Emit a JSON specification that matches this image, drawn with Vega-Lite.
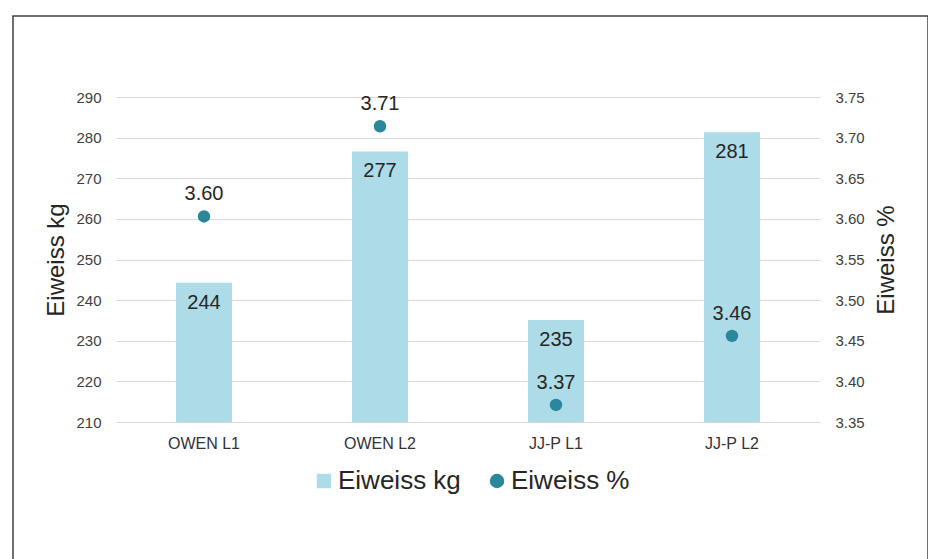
{
  "$schema": "https://vega.github.io/schema/vega-lite/v6.json",
  "autosize": "none",
  "padding": {"left": 13, "top": 16, "right": 0, "bottom": 0},
  "width": 915,
  "height": 560,
  "background": "white",
  "config": {
    "font": "Liberation Sans",
    "view": {"stroke": "#404040", "strokeWidth": 1.5}
  },
  "data": {
    "values": [
      {"cat": "OWEN L1", "kg": 244.3, "pct": 3.603},
      {"cat": "OWEN L2", "kg": 276.6, "pct": 3.714},
      {"cat": "JJ-P L1", "kg": 235.1, "pct": 3.371},
      {"cat": "JJ-P L2", "kg": 281.3, "pct": 3.456}
    ]
  },
  "encoding": {
    "x": {
      "field": "cat",
      "type": "nominal",
      "sort": null,
      "scale": {"range": [103, 807]},
      "axis": {
        "orient": "bottom",
        "title": null,
        "offset": -154,
        "domain": false,
        "ticks": false,
        "grid": false,
        "labelAngle": 0,
        "labelFontSize": 16,
        "labelColor": "#333333",
        "labelPadding": 13
      }
    }
  },
  "layer": [
    {
      "encoding": {
        "y": {
          "field": "kg",
          "type": "quantitative",
          "scale": {"domain": [210, 290], "zero": false, "nice": false, "range": [406, 81]},
          "axis": {
            "orient": "left",
            "title": "Eiweiss kg",
            "titleFontSize": 24,
            "titleFontWeight": "normal",
            "titleColor": "#262626",
            "titlePadding": 7,
            "offset": -103,
            "domain": false,
            "ticks": false,
            "grid": true,
            "gridColor": "#D9D9D9",
            "gridWidth": 1,
            "values": [210, 220, 230, 240, 250, 260, 270, 280, 290],
            "labelFontSize": 15,
            "labelColor": "#404040",
            "labelPadding": 15
          }
        }
      },
      "layer": [
        {
          "mark": {"type": "bar", "width": 56},
          "encoding": {
            "y2": {"datum": 210},
            "color": {
              "datum": "Eiweiss kg",
              "type": "nominal",
              "scale": {"domain": ["Eiweiss kg", "Eiweiss %"], "range": ["#ADDCE8", "#2A879C"]},
              "legend": {
                "orient": "none",
                "legendX": 298,
                "legendY": 452,
                "direction": "horizontal",
                "title": null,
                "labelFontSize": 26,
                "labelColor": "#262626",
                "symbolSize": 210,
                "symbolOpacity": 1,
                "symbolStrokeWidth": 0,
                "labelOffset": 1,
                "columnPadding": 23,
                "padding": 0
              }
            }
          }
        },
        {
          "mark": {"type": "text", "dy": 20, "baseline": "middle", "fontSize": 20, "color": "#262626"},
          "encoding": {"text": {"field": "kg", "type": "quantitative", "format": ".0f"}}
        }
      ]
    },
    {
      "encoding": {
        "y": {
          "field": "pct",
          "type": "quantitative",
          "scale": {"domain": [3.35, 3.75], "zero": false, "nice": false, "range": [406, 81]},
          "axis": {
            "orient": "right",
            "title": "Eiweiss %",
            "titleFontSize": 24,
            "titleFontWeight": "normal",
            "titleColor": "#262626",
            "titleAngle": 270,
            "titleBaseline": "top",
            "titlePadding": 10,
            "offset": -108,
            "domain": false,
            "ticks": false,
            "grid": false,
            "values": [3.35, 3.4, 3.45, 3.5, 3.55, 3.6, 3.65, 3.7, 3.75],
            "format": ".2f",
            "labelFontSize": 15,
            "labelColor": "#404040",
            "labelPadding": 15
          }
        }
      },
      "layer": [
        {
          "mark": {"type": "point", "filled": true, "opacity": 1, "size": 155},
          "encoding": {
            "color": {"datum": "Eiweiss %", "type": "nominal"},
            "shape": {
              "datum": "Eiweiss %",
              "type": "nominal",
              "scale": {"domain": ["Eiweiss kg", "Eiweiss %"], "range": ["square", "circle"]},
              "legend": {
                "orient": "none",
                "legendX": 298,
                "legendY": 452,
                "direction": "horizontal",
                "title": null,
                "labelFontSize": 26,
                "labelColor": "#262626",
                "symbolSize": 210,
                "symbolOpacity": 1,
                "symbolStrokeWidth": 0,
                "labelOffset": 1,
                "columnPadding": 23,
                "padding": 0
              }
            }
          }
        },
        {
          "mark": {"type": "text", "dy": -22, "baseline": "middle", "fontSize": 20, "color": "#262626"},
          "encoding": {"text": {"field": "pct", "type": "quantitative", "format": ".2f"}}
        }
      ]
    }
  ],
  "resolve": {"scale": {"y": "independent"}}
}
